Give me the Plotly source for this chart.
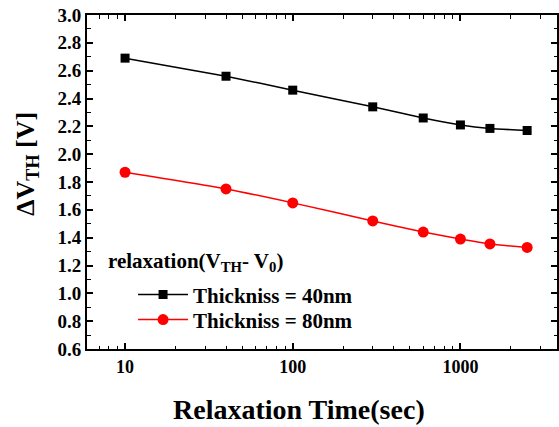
import plotly.graph_objects as go

time_sec = [10, 40, 100, 300, 600, 1000, 1500, 2500]
dvth_40nm = [2.69, 2.56, 2.46, 2.34, 2.26, 2.21, 2.185, 2.17]
dvth_80nm = [1.87, 1.75, 1.65, 1.52, 1.44, 1.39, 1.355, 1.33]
series_names = ["Thickniss = 40nm", "Thickniss = 80nm"]
legend_title = "relaxation(V<sub>TH</sub>- V<sub>0</sub>)"
x_title = "Relaxation Time(sec)"
y_title = "ΔV<sub>TH</sub> [V]"
x_ticks = [10, 100, 1000]
y_ticks = [0.6, 0.8, 1.0, 1.2, 1.4, 1.6, 1.8, 2.0, 2.2, 2.4, 2.6, 2.8, 3.0]

FONT = "Liberation Serif"

fig = go.Figure()
fig.add_trace(go.Scatter(
    x=time_sec, y=dvth_40nm, name="<b>" + series_names[0] + "</b>", mode="lines+markers",
    line=dict(color="black", width=1.5, shape="spline", smoothing=0.5),
    marker=dict(symbol="square", size=9, color="black"),
    legend="legend", showlegend=True,
))
fig.add_trace(go.Scatter(
    x=time_sec, y=dvth_80nm, name="<b>" + series_names[1] + "</b>", mode="lines+markers",
    line=dict(color="red", width=1.5, shape="spline", smoothing=0.5),
    marker=dict(symbol="circle", size=11, color="red"),
    legend="legend2", showlegend=True,
))

axis_common = dict(
    showline=True, linecolor="black", linewidth=2, mirror="ticks",
    ticks="inside", ticklen=6, tickwidth=1.5, tickcolor="black",
    showgrid=False, zeroline=False, automargin=False,
)

fig.update_xaxes(
    type="log", range=[0.773, 3.576],
    tickvals=x_ticks, ticktext=["<b>%d</b>" % v for v in x_ticks],
    tickfont=dict(family=FONT, size=18, color="black"),
    minor=dict(ticks="inside", ticklen=3.5, tickwidth=1, tickcolor="black",
               tickvals=[6, 7, 8, 9, 20, 30, 40, 50, 60, 70, 80, 90,
                         200, 300, 400, 500, 600, 700, 800, 900, 2000, 3000],
               showgrid=False),
    **axis_common,
)
fig.update_yaxes(
    range=[0.6, 3.0],
    tickvals=y_ticks, ticktext=["<b>%.1f</b>" % v for v in y_ticks],
    tickfont=dict(family=FONT, size=19, color="black"),
    minor=dict(ticks="inside", ticklen=3.5, tickwidth=1, tickcolor="black", dtick=0.1,
               showgrid=False),
    **axis_common,
)

# axis titles
fig.add_annotation(
    x=0.452, y=-0.18, xref="paper", yref="paper", xanchor="center", yanchor="middle",
    text="<b>" + x_title + "</b>", showarrow=False,
    font=dict(family=FONT, size=28, color="black"),
)
fig.add_annotation(
    x=-0.128, y=0.554, xref="paper", yref="paper", xanchor="center", yanchor="middle",
    text="<b>" + y_title + "</b>", showarrow=False, textangle=-90,
    font=dict(family=FONT, size=26, color="black"),
)

# legend header
fig.add_annotation(
    x=0.040, y=0.26, xref="paper", yref="paper", xanchor="left", yanchor="middle",
    text="<b>" + legend_title + "</b>", showarrow=False,
    font=dict(family=FONT, size=21, color="black"),
)

leg_common = dict(xanchor="left", yanchor="middle", bgcolor="rgba(0,0,0,0)",
                  itemwidth=50, font=dict(family=FONT, size=21, color="black"),
                  visible=True)
fig.update_layout(
    width=559, height=427,
    margin=dict(l=87, r=2, t=15, b=78),
    paper_bgcolor="white", plot_bgcolor="white",
    showlegend=True,
    legend=dict(x=0.098, y=0.162, **leg_common),
    legend2=dict(x=0.098, y=0.087, **leg_common),
)

fig.write_html("out.html", config={"displayModeBar": False},
               post_script="document.body.style.margin='0px';")
